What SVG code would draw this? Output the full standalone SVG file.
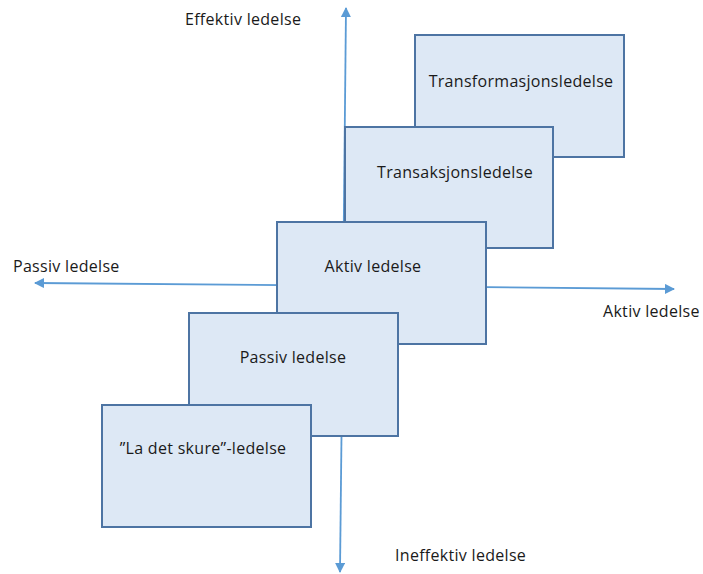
<svg xmlns="http://www.w3.org/2000/svg" width="703" height="574" viewBox="0 0 703 574">
<style>
.box{fill:#dde8f5;stroke:#4d74a3;stroke-width:2}
.ax{stroke:#5b9bd5;stroke-width:1.8;fill:none}
text{font-family:"Open Sans","Liberation Sans",sans-serif;font-size:16px;letter-spacing:0.3px;fill:#1a1a1a}
.c{text-anchor:middle}
</style>
<defs>
<marker id="ah" viewBox="0 0 10 10" refX="9" refY="5" markerWidth="10" markerHeight="10" markerUnits="userSpaceOnUse" orient="auto">
<path d="M0,0 L10,5 L0,10 z" fill="#5b9bd5"/>
</marker>
</defs>
<g id="connectors">
<line class="ax" x1="343" y1="300" x2="346" y2="8" marker-end="url(#ah)"/>
<line class="ax" x1="343" y1="300" x2="340" y2="572" marker-end="url(#ah)"/>
<line class="ax" x1="380" y1="286" x2="35" y2="283" marker-end="url(#ah)"/>
<line class="ax" x1="380" y1="286" x2="674" y2="289" marker-end="url(#ah)"/>
</g>
<g id="axis-labels">
<text x="185" y="25">Effektiv ledelse</text>
<text x="13" y="272">Passiv ledelse</text>
<text x="603" y="317">Aktiv ledelse</text>
<text x="395" y="561">Ineffektiv ledelse</text>
</g>
<g id="n-transformasjon">
<rect class="box" x="415" y="35" width="209" height="122"/>
<text class="c" x="521" y="87">Transformasjonsledelse</text>
</g>
<g id="n-transaksjon">
<rect class="box" x="345" y="127" width="208" height="121"/>
<text class="c" x="455" y="178">Transaksjonsledelse</text>
</g>
<g id="n-aktiv">
<rect class="box" x="277" y="222" width="209" height="122"/>
<text class="c" x="373" y="272">Aktiv ledelse</text>
</g>
<g id="n-passiv">
<rect class="box" x="189" y="313" width="209" height="123"/>
<text class="c" x="293" y="363">Passiv ledelse</text>
</g>
<g id="n-laskure">
<rect class="box" x="102" y="405" width="209" height="122"/>
<text class="c" x="203" y="454">”La det skure”-ledelse</text>
</g>
</svg>
